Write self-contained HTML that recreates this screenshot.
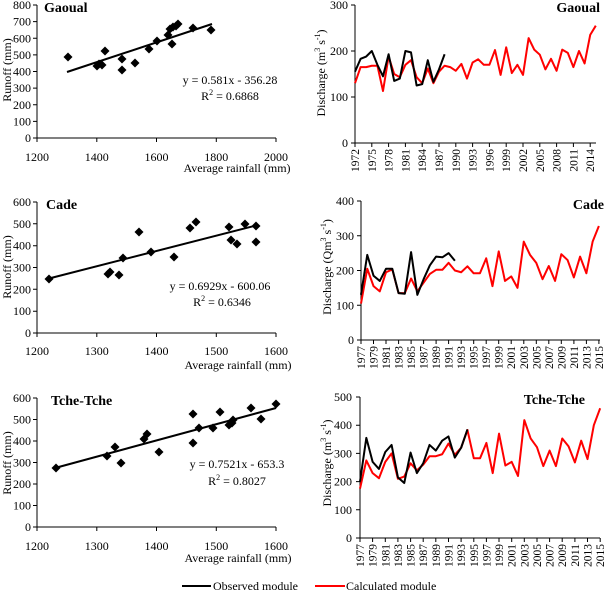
<!DOCTYPE html>
<html><head><meta charset="utf-8"><style>
html,body{margin:0;padding:0;background:#fff;font-family:"Liberation Serif","Times New Roman",serif;}
svg{display:block;}
text,tspan{fill:#000;font-family:"Liberation Serif","Times New Roman",serif;}
.t{font-size:12px;}
.yr{font-size:11.5px;}
.ttl{font-size:14px;font-weight:bold;}
.ax{stroke:#000;stroke-width:1;fill:none;}
.ob{stroke:#000;stroke-width:2;fill:none;vector-effect:non-scaling-stroke;stroke-linejoin:round;}
.ca{stroke:#f00;stroke-width:2;fill:none;vector-effect:non-scaling-stroke;stroke-linejoin:round;}
</style></head><body>
<svg width="606" height="591" viewBox="0 0 606 591" xmlns="http://www.w3.org/2000/svg" font-family="Liberation Serif, serif">
<defs><path id="d" d="M0,-4.5L4.5,0L0,4.5L-4.5,0Z" fill="#000"/></defs>

<!-- ============ Gaoual scatter ============ -->
<path class="ax" d="M37,5V138H276M33,5H37M33,21.6H37M33,38.3H37M33,54.9H37M33,71.5H37M33,88.1H37M33,104.8H37M33,121.4H37M33,138H37M37,138V142M96.8,138V142M156.5,138V142M216.3,138V142M276,138V142"/>
<g class="t" text-anchor="end">
<text x="31" y="9">800</text><text x="31" y="25.6">700</text><text x="31" y="42.3">600</text><text x="31" y="58.9">500</text><text x="31" y="75.5">400</text><text x="31" y="92.1">300</text><text x="31" y="108.8">200</text><text x="31" y="125.4">100</text><text x="31" y="142">0</text>
</g>
<g class="t" text-anchor="middle">
<text x="37" y="161">1200</text><text x="96.8" y="161">1400</text><text x="156.5" y="161">1600</text><text x="216.3" y="161">1800</text><text x="276" y="161">2000</text>
<text x="237" y="172">Average rainfall (mm)</text>
<text transform="translate(11,70) rotate(-90)">Runoff (mm)</text>
<text x="230" y="84">y = 0.581x - 356.28</text>
<text x="230" y="100">R<tspan font-size="8" dy="-5">2</tspan><tspan dy="5"> = 0.6868</tspan></text>
</g>
<text class="ttl" x="44" y="12">Gaoual</text>
<line x1="67" y1="72" x2="212" y2="24" stroke="#000" stroke-width="2"/>
<use href="#d" x="68" y="57"/><use href="#d" x="97" y="66"/><use href="#d" x="99" y="64"/><use href="#d" x="102" y="65"/><use href="#d" x="105" y="51"/><use href="#d" x="122" y="59"/><use href="#d" x="122" y="70"/><use href="#d" x="135" y="63"/><use href="#d" x="149" y="49"/><use href="#d" x="157" y="41"/><use href="#d" x="168" y="35"/><use href="#d" x="170" y="29"/><use href="#d" x="172" y="44"/><use href="#d" x="173" y="27"/><use href="#d" x="176" y="26"/><use href="#d" x="178" y="24"/><use href="#d" x="193" y="28"/><use href="#d" x="211" y="30"/>

<!-- ============ Gaoual discharge ============ -->
<path class="ax" d="M355,5V143H596M351,5H355M351,51H355M351,97H355M351,143H355M355,143V147M371.8,143V147M388.6,143V147M405.4,143V147M422.2,143V147M439,143V147M455.8,143V147M472.6,143V147M489.4,143V147M506.2,143V147M523,143V147M539.8,143V147M556.6,143V147M573.4,143V147M590.2,143V147"/>
<g class="t" text-anchor="end">
<text x="348" y="9">300</text><text x="348" y="55">200</text><text x="348" y="101">100</text><text x="348" y="147">0</text>
</g>
<g class="yr" text-anchor="end">
<text transform="translate(359,149) rotate(-90)">1972</text><text transform="translate(375.8,149) rotate(-90)">1975</text><text transform="translate(392.6,149) rotate(-90)">1978</text><text transform="translate(409.4,149) rotate(-90)">1981</text><text transform="translate(426.2,149) rotate(-90)">1984</text><text transform="translate(443,149) rotate(-90)">1987</text><text transform="translate(459.8,149) rotate(-90)">1990</text><text transform="translate(476.6,149) rotate(-90)">1993</text><text transform="translate(493.4,149) rotate(-90)">1996</text><text transform="translate(510.2,149) rotate(-90)">1999</text><text transform="translate(527,149) rotate(-90)">2002</text><text transform="translate(543.8,149) rotate(-90)">2005</text><text transform="translate(560.6,149) rotate(-90)">2008</text><text transform="translate(577.4,149) rotate(-90)">2011</text><text transform="translate(594.2,149) rotate(-90)">2014</text>
</g>
<text class="t" text-anchor="middle" transform="translate(325,73) rotate(-90)">Discharge (m<tspan font-size="8" dy="-5">3</tspan><tspan dy="5"> s</tspan><tspan font-size="8" dy="-5">-1</tspan><tspan dy="5">)</tspan></text>
<text class="ttl" x="600" y="12" text-anchor="end">Gaoual</text>
<g transform="translate(355,143) scale(5.6,-0.46)">
<polyline class="ca" points="0,130 1,165 2,165 3,168 4,168 5,113 6,188 7,150 8,143 9,170 10,180 11,143 12,130 13,162 14,130 15,155 16,168 17,165 18,157 19,172 20,140 21,175 22,182 23,170 24,170 25,202 26,148 27,208 28,152 29,170 30,148 31,228 32,203 33,192 34,160 35,183 36,157 37,203 38,196 39,165 40,200 41,173 42,235 43,255"/>
<polyline class="ob" points="0,155 1,183 2,188 3,200 4,170 5,145 6,193 7,135 8,140 9,200 10,197 11,125 12,128 13,180 14,133 15,160 16,193"/>
</g>

<!-- ============ Cade scatter ============ -->
<path class="ax" d="M37,202V333H276M33,202H37M33,223.8H37M33,245.7H37M33,267.5H37M33,289.3H37M33,311.2H37M33,333H37M37,333V337M96.8,333V337M156.5,333V337M216.3,333V337M276,333V337"/>
<g class="t" text-anchor="end">
<text x="31" y="206">600</text><text x="31" y="227.8">500</text><text x="31" y="249.7">400</text><text x="31" y="271.5">300</text><text x="31" y="293.3">200</text><text x="31" y="315.2">100</text><text x="31" y="337">0</text>
</g>
<g class="t" text-anchor="middle">
<text x="37" y="355">1200</text><text x="96.8" y="355">1300</text><text x="156.5" y="355">1400</text><text x="216.3" y="355">1500</text><text x="276" y="355">1600</text>
<text x="238" y="369">Average rainfall (mm)</text>
<text transform="translate(11,267) rotate(-90)">Runoff (mm)</text>
<text x="220" y="290">y = 0.6929x - 600.06</text>
<text x="222" y="306">R<tspan font-size="8" dy="-5">2</tspan><tspan dy="5"> = 0.6346</tspan></text>
</g>
<text class="ttl" x="46" y="209">Cade</text>
<line x1="47" y1="279" x2="258" y2="225" stroke="#000" stroke-width="2"/>
<use href="#d" x="49" y="279"/><use href="#d" x="108" y="274"/><use href="#d" x="110" y="272"/><use href="#d" x="119" y="275"/><use href="#d" x="123" y="258"/><use href="#d" x="139" y="232"/><use href="#d" x="151" y="252"/><use href="#d" x="174" y="257"/><use href="#d" x="190" y="228"/><use href="#d" x="196" y="222"/><use href="#d" x="229" y="227"/><use href="#d" x="231" y="240"/><use href="#d" x="237" y="244"/><use href="#d" x="245" y="224"/><use href="#d" x="256" y="226"/><use href="#d" x="256" y="242"/>

<!-- ============ Cade discharge ============ -->
<path class="ax" d="M361,201V340H600M357,201H361M357,235.8H361M357,270.5H361M357,305.3H361M357,340H361M361,340V344M373.5,340V344M386,340V344M398.6,340V344M411.1,340V344M423.6,340V344M436.1,340V344M448.6,340V344M461.2,340V344M473.7,340V344M486.2,340V344M498.7,340V344M511.2,340V344M523.8,340V344M536.3,340V344M548.8,340V344M561.3,340V344M573.9,340V344M586.4,340V344M598.9,340V344"/>
<g class="t" text-anchor="end">
<text x="354" y="205">400</text><text x="354" y="239.8">300</text><text x="354" y="274.5">200</text><text x="354" y="309.3">100</text><text x="354" y="344">0</text>
</g>
<g class="yr" text-anchor="end">
<text transform="translate(365,346) rotate(-90)">1977</text><text transform="translate(377.5,346) rotate(-90)">1979</text><text transform="translate(390,346) rotate(-90)">1981</text><text transform="translate(402.6,346) rotate(-90)">1983</text><text transform="translate(415.1,346) rotate(-90)">1985</text><text transform="translate(427.6,346) rotate(-90)">1987</text><text transform="translate(440.1,346) rotate(-90)">1989</text><text transform="translate(452.6,346) rotate(-90)">1991</text><text transform="translate(465.2,346) rotate(-90)">1993</text><text transform="translate(477.7,346) rotate(-90)">1995</text><text transform="translate(490.2,346) rotate(-90)">1997</text><text transform="translate(502.7,346) rotate(-90)">1999</text><text transform="translate(515.2,346) rotate(-90)">2001</text><text transform="translate(527.8,346) rotate(-90)">2003</text><text transform="translate(540.3,346) rotate(-90)">2005</text><text transform="translate(552.8,346) rotate(-90)">2007</text><text transform="translate(565.3,346) rotate(-90)">2009</text><text transform="translate(577.9,346) rotate(-90)">2011</text><text transform="translate(590.4,346) rotate(-90)">2013</text><text transform="translate(602.9,346) rotate(-90)">2015</text>
</g>
<text class="t" text-anchor="middle" transform="translate(331,267) rotate(-90)">Discharge (Qm<tspan font-size="8" dy="-5">3</tspan><tspan dy="5"> s</tspan><tspan font-size="8" dy="-5">-1</tspan><tspan dy="5">)</tspan></text>
<text class="ttl" x="604" y="209" text-anchor="end">Cade</text>
<g transform="translate(361,340) scale(6.26,-0.3475)">
<polyline class="ca" points="0,105 1,205 2,155 3,140 4,195 5,203 6,135 7,135 8,177 9,140 10,165 11,190 12,202 13,202 14,222 15,200 16,195 17,212 18,192 19,192 20,235 21,155 22,255 23,170 24,183 25,150 26,283 27,245 28,222 29,175 30,213 31,170 32,247 33,230 34,180 35,240 36,192 37,283 38,328"/>
<polyline class="ob" points="0,130 1,245 2,185 3,170 4,205 5,205 6,135 7,133 8,253 9,130 10,175 11,215 12,240 13,238 14,250 15,228"/>
</g>

<!-- ============ Tche-Tche scatter ============ -->
<path class="ax" d="M37,398V527H276M33,398H37M33,419.5H37M33,441H37M33,462.5H37M33,484H37M33,505.5H37M33,527H37M37,527V531M96.8,527V531M156.5,527V531M216.3,527V531M276,527V531"/>
<g class="t" text-anchor="end">
<text x="31" y="402">600</text><text x="31" y="423.5">500</text><text x="31" y="445">400</text><text x="31" y="466.5">300</text><text x="31" y="488">200</text><text x="31" y="509.5">100</text><text x="31" y="531">0</text>
</g>
<g class="t" text-anchor="middle">
<text x="37" y="550">1200</text><text x="96.8" y="550">1300</text><text x="156.5" y="550">1400</text><text x="216.3" y="550">1500</text><text x="276" y="550">1600</text>
<text x="238" y="562">Average rainfall (mm)</text>
<text transform="translate(11,463) rotate(-90)">Runoff (mm)</text>
<text x="237" y="468">y = 0.7521x - 653.3</text>
<text x="237" y="485">R<tspan font-size="8" dy="-5">2</tspan><tspan dy="5"> = 0.8027</tspan></text>
</g>
<text class="ttl" x="51" y="405">Tche-Tche</text>
<line x1="55" y1="468" x2="276" y2="408" stroke="#000" stroke-width="2"/>
<use href="#d" x="56" y="468"/><use href="#d" x="107" y="456"/><use href="#d" x="115" y="447"/><use href="#d" x="121" y="463"/><use href="#d" x="144" y="439"/><use href="#d" x="147" y="434"/><use href="#d" x="159" y="452"/><use href="#d" x="193" y="443"/><use href="#d" x="193" y="414"/><use href="#d" x="199" y="428"/><use href="#d" x="213" y="428"/><use href="#d" x="220" y="412"/><use href="#d" x="229" y="425"/><use href="#d" x="232" y="423"/><use href="#d" x="233" y="420"/><use href="#d" x="251" y="408"/><use href="#d" x="261" y="419"/><use href="#d" x="276" y="404"/>

<!-- ============ Tche-Tche discharge ============ -->
<path class="ax" d="M360,397V538H600M356,397H360M356,425.2H360M356,453.4H360M356,481.6H360M356,509.8H360M356,538H360M360,538V542M372.6,538V542M385.3,538V542M397.9,538V542M410.6,538V542M423.2,538V542M435.8,538V542M448.5,538V542M461.1,538V542M473.8,538V542M486.4,538V542M499,538V542M511.7,538V542M524.3,538V542M537,538V542M549.6,538V542M562.2,538V542M574.9,538V542M587.5,538V542M600.2,538V542"/>
<g class="t" text-anchor="end">
<text x="352" y="401">500</text><text x="352" y="429.2">400</text><text x="352" y="457.4">300</text><text x="352" y="485.6">200</text><text x="352" y="513.8">100</text><text x="352" y="542">0</text>
</g>
<g class="yr" text-anchor="end">
<text transform="translate(364,544) rotate(-90)">1977</text><text transform="translate(376.6,544) rotate(-90)">1979</text><text transform="translate(389.3,544) rotate(-90)">1981</text><text transform="translate(401.9,544) rotate(-90)">1983</text><text transform="translate(414.6,544) rotate(-90)">1985</text><text transform="translate(427.2,544) rotate(-90)">1987</text><text transform="translate(439.8,544) rotate(-90)">1989</text><text transform="translate(452.5,544) rotate(-90)">1991</text><text transform="translate(465.1,544) rotate(-90)">1993</text><text transform="translate(477.8,544) rotate(-90)">1995</text><text transform="translate(490.4,544) rotate(-90)">1997</text><text transform="translate(503,544) rotate(-90)">1999</text><text transform="translate(515.7,544) rotate(-90)">2001</text><text transform="translate(528.3,544) rotate(-90)">2003</text><text transform="translate(541,544) rotate(-90)">2005</text><text transform="translate(553.6,544) rotate(-90)">2007</text><text transform="translate(566.2,544) rotate(-90)">2009</text><text transform="translate(578.9,544) rotate(-90)">2011</text><text transform="translate(591.5,544) rotate(-90)">2013</text><text transform="translate(604.2,544) rotate(-90)">2015</text>
</g>
<text class="t" text-anchor="middle" transform="translate(331,463) rotate(-90)">Discharge (m<tspan font-size="8" dy="-5">3</tspan><tspan dy="5"> s</tspan><tspan font-size="8" dy="-5">-1</tspan><tspan dy="5">)</tspan></text>
<text class="ttl" x="585" y="404" text-anchor="end">Tche-Tche</text>
<g transform="translate(360,538) scale(6.32,-0.282)">
<polyline class="ca" points="0,175 1,275 2,230 3,212 4,270 5,300 6,210 7,218 8,265 9,240 10,260 11,290 12,290 13,297 14,335 15,295 16,320 17,383 18,283 19,283 20,337 21,230 22,370 23,257 24,270 25,220 26,418 27,353 28,322 29,255 30,310 31,255 32,353 33,325 34,268 35,345 36,280 37,400 38,460"/>
<polyline class="ob" points="0,200 1,355 2,270 3,245 4,305 5,330 6,215 7,195 8,303 9,230 10,265 11,330 12,310 13,345 14,360 15,285 16,320 17,385"/>
</g>

<!-- ============ Legend ============ -->
<line x1="182" y1="586" x2="211" y2="586" stroke="#000" stroke-width="2"/>
<text class="t" x="213" y="590">Observed module</text>
<line x1="315" y1="586" x2="345" y2="586" stroke="#f00" stroke-width="2"/>
<text class="t" x="346" y="590">Calculated module</text>
</svg>
</body></html>
